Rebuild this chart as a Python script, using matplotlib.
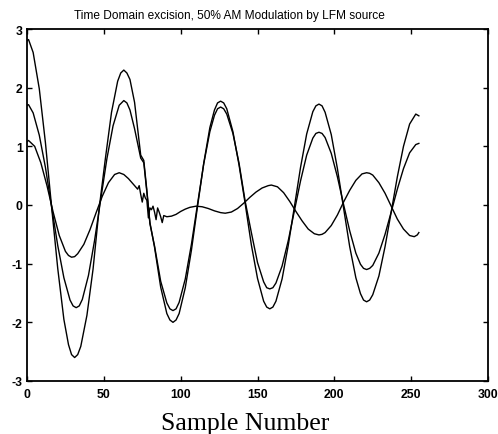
import matplotlib
matplotlib.use("Agg")
import matplotlib.pyplot as plt

plt.rcParams["axes.unicode_minus"] = False

title = "Time Domain excision, 50% AM Modulation by LFM source"
xlabel = "Sample Number"
xticks = [0, 50, 100, 150, 200, 250, 300]
yticks = [-3, -2, -1, 0, 1, 2, 3]

sample_a = [0, 1, 4, 8, 12, 16, 20, 24, 27, 29, 31, 33, 35, 39, 43, 47, 51, 55, 59, 61,
            63, 65, 67, 70, 72, 74, 76, 78, 80, 83, 87, 91, 93, 95, 97, 99, 103, 107, 111, 115,
            119, 122, 124, 126, 128, 130, 134, 138, 142, 146, 150, 154, 156, 158, 160, 162, 166, 170, 174, 178,
            182, 186, 188, 190, 192, 194, 198, 202, 206, 210, 214, 217, 219, 221, 223, 225, 229, 233, 237, 241,
            245, 249, 253, 255]
curve_a = [2.80, 2.82, 2.60, 1.98, 1.06, -0.03, -1.08, -1.95, -2.38, -2.55,
           -2.60, -2.55, -2.41, -1.88, -1.09, -0.05, 0.79, 1.58, 2.11, 2.25,
           2.30, 2.25, 2.14, 1.75, 1.30, 0.85, 0.76, 0.25, -0.30, -0.72,
           -1.40, -1.85, -1.96, -2.00, -1.96, -1.85, -1.41, -0.77, -0.02, 0.71,
           1.32, 1.62, 1.74, 1.77, 1.74, 1.64, 1.25, 0.68, 0.02, -0.68,
           -1.25, -1.64, -1.74, -1.77, -1.74, -1.64, -1.26, -0.69, -0.03, 0.64,
           1.21, 1.59, 1.69, 1.72, 1.69, 1.58, 1.20, 0.62, -0.05, -0.71,
           -1.24, -1.51, -1.62, -1.65, -1.62, -1.53, -1.21, -0.71, -0.12, 0.48,
           1.00, 1.38, 1.55, 1.52]

sample_b = [0, 1, 4, 8, 12, 16, 20, 24, 28, 30, 32, 34, 36, 40, 44, 48, 52, 56, 60, 63,
            65, 67, 70, 72, 74, 76, 78, 80, 83, 87, 91, 93, 95, 97, 99, 103, 107, 111, 115, 119,
            122, 124, 126, 128, 130, 134, 138, 142, 146, 150, 154, 156, 158, 160, 162, 166, 170, 174, 178, 182,
            186, 188, 190, 192, 194, 198, 202, 206, 210, 214, 217, 219, 221, 223, 225, 229, 233, 237, 241, 245,
            249, 253, 255]
curve_b = [1.70, 1.71, 1.57, 1.19, 0.64, -0.03, -0.69, -1.24, -1.62, -1.72,
           -1.75, -1.72, -1.61, -1.20, -0.60, 0.10, 0.79, 1.35, 1.70, 1.78,
           1.74, 1.62, 1.30, 1.05, 0.80, 0.72, 0.22, -0.32, -0.70, -1.30,
           -1.67, -1.77, -1.80, -1.77, -1.66, -1.26, -0.67, 0.02, 0.70, 1.25,
           1.53, 1.64, 1.67, 1.64, 1.55, 1.22, 0.71, 0.06, -0.47, -0.98,
           -1.31, -1.41, -1.43, -1.41, -1.33, -1.04, -0.61, -0.10, 0.41, 0.85,
           1.14, 1.22, 1.24, 1.22, 1.15, 0.88, 0.48, 0.01, -0.44, -0.82,
           -1.01, -1.08, -1.10, -1.08, -1.03, -0.82, -0.50, -0.12, 0.27, 0.62,
           0.89, 1.03, 1.05]

sample_c = [0, 1, 5, 9, 13, 17, 21, 25, 27, 29, 31, 33, 37, 41, 45, 49, 53, 57, 60,
            63, 66, 69, 71, 72, 73, 74, 75, 76, 77, 78, 79, 80, 81, 82, 83, 84, 85, 86, 87, 88, 89,
            91, 94, 97, 100, 103, 106, 110, 114, 118, 122, 126, 129,
            133, 137, 141, 145, 149, 153, 157, 159, 163, 167, 171, 175, 179, 183, 187, 190, 192,
            194, 198, 202, 206, 210, 214, 218, 221, 223, 225, 229, 233, 237, 241, 245, 249, 252, 254, 255]
curve_c = [1.08, 1.10, 1.00, 0.72, 0.33, -0.12, -0.52, -0.79, -0.86, -0.89, -0.88,
           -0.83, -0.67, -0.42, -0.13, 0.15, 0.38, 0.52, 0.55,
           0.52, 0.45, 0.36, 0.30, 0.27, 0.33, 0.18, 0.05, 0.20, 0.12, 0.08, -0.22, -0.05, -0.08,
           -0.02, -0.12, -0.25, -0.05, -0.12, -0.20, -0.30, -0.18,
           -0.20, -0.19, -0.16, -0.11, -0.07, -0.04, -0.02, -0.03, -0.06, -0.10, -0.13, -0.14,
           -0.12, -0.06, 0.03, 0.13, 0.22, 0.29, 0.33, 0.34, 0.31, 0.21, 0.06, -0.11, -0.27, -0.41,
           -0.49, -0.51, -0.50,
           -0.47, -0.35, -0.17, 0.05, 0.25, 0.42, 0.53, 0.55, 0.54,
           0.51, 0.38, 0.20, -0.02, -0.24, -0.41, -0.52, -0.54, -0.51, -0.47]

fig = plt.figure(figsize=(4.98, 4.35), dpi=100)
ax = fig.add_axes([27 / 498, 1 - 382 / 435, (488 - 27) / 498, (382 - 30) / 435])

for xs, ys in [(sample_a, curve_a), (sample_b, curve_b), (sample_c, curve_c)]:
    ax.plot(xs, ys, color="black", lw=1.0)

ax.set_xlim(0, 300)
ax.set_ylim(-3, 3)
ax.set_xticks(xticks)
ax.set_yticks(yticks)
for s in ax.spines.values():
    s.set_linewidth(1.3)
ax.tick_params(direction="in", length=3.5, width=1.0, top=True, right=True,
               labelsize=8.8)
for lab in ax.get_xticklabels() + ax.get_yticklabels():
    lab.set_fontweight("bold")
    lab.set_family("Liberation Sans")
ax.tick_params(axis="x", pad=5)
ax.tick_params(axis="y", pad=3)

fig.text(229 / 498, 1 - 19.5 / 435, title, ha="center", va="baseline",
         fontsize=8.6, family="Liberation Sans")
fig.text(245 / 498, 1 - 430 / 435, xlabel, ha="center", va="baseline",
         fontsize=18.5, family="Liberation Serif")

fig.savefig("out.png", dpi=100)
